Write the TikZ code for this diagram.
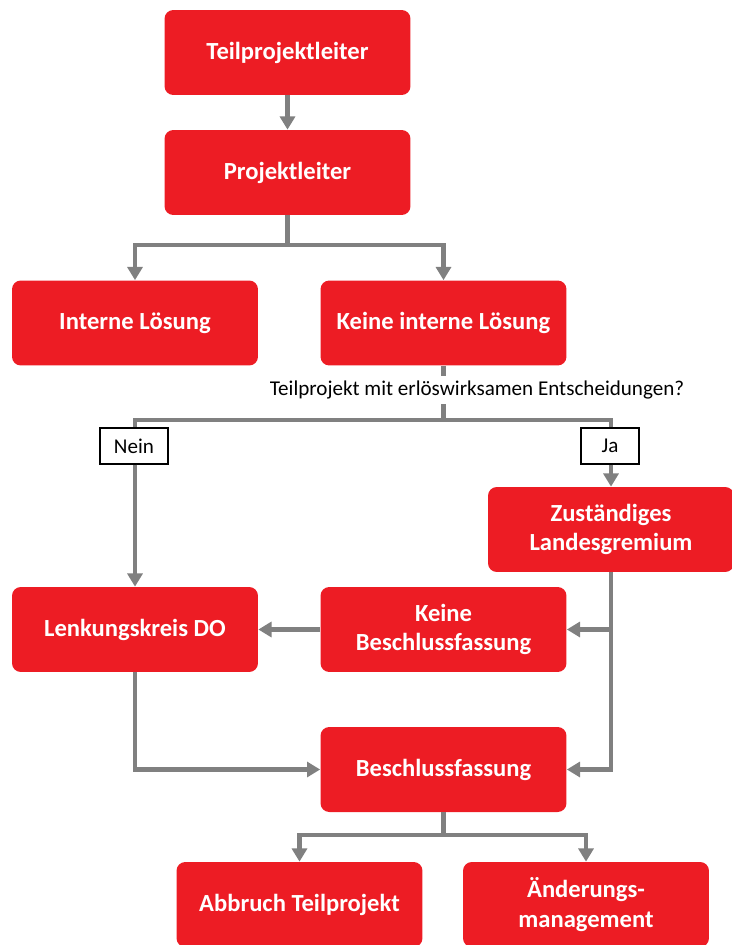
\documentclass[tikz,border=0pt]{standalone}
\usepackage{fontspec}
\setmainfont{Carlito}
\usetikzlibrary{arrows.meta}
\definecolor{boxred}{HTML}{ED1C24}
\definecolor{linegray}{HTML}{808080}

\begin{document}
\begin{tikzpicture}[
    x=0.02cm, y=-0.02cm,
    >={Triangle[width=8.5pt, length=7.5pt]},
    box/.style={rectangle, rounded corners=5pt, fill=boxred, text=white, align=center,
        font=\bfseries\fontsize{14}{17}\selectfont, minimum width=4.92cm, minimum height=1.7cm, inner sep=0pt},
    link/.style={draw=linegray, line width=2.6pt},
    flow/.style={link, ->},
    tag/.style={draw=black, fill=white, line width=0.7pt, minimum height=0.72cm, inner sep=0pt,
        font=\fontsize{12}{14}\selectfont}
]
    \useasboundingbox (0,0) rectangle (731,945);

    % Boxes
    \node[box] (tpl) at (287.5,52.5) {Teilprojektleiter};
    \node[box] (pl) at (287.5,172.5) {Projektleiter};
    \node[box] (intern) at (135,323) {Interne Lösung};
    \node[box] (keine) at (443.5,323) {Keine interne Lösung};
    \node[box] (zust) at (611,529.5) {Zuständiges\\Landesgremium};
    \node[box] (lenk) at (135,629.5) {Lenkungskreis DO};
    \node[box] (keinebes) at (443.5,629.5) {Keine\\Beschlussfassung};
    \node[box] (bes) at (443.5,769.5) {Beschlussfassung};
    \node[box] (abbruch) at (299.5,904.5) {Abbruch Teilprojekt};
    \node[box] (aend) at (586,904.5) {Änderungs-\\management};

    % Branch points
    \coordinate (gabel) at (287.5,245);
    \coordinate (split) at (443.5,420);
    \coordinate (teil) at (443.5,835);

    % Top part
    \draw[flow] (tpl) -- (pl);
    \draw[link] (pl) -- (gabel);
    \draw[flow] (gabel) -| (intern);
    \draw[flow] (gabel) -| (keine);

    % Question and answers
    \draw[link] (keine.south) -- (split);
    \node[fill=white, minimum height=0.56cm, inner sep=1pt, font=\fontsize{12}{14}\selectfont]
        (frage) at (477,390) {Teilprojekt mit erlöswirksamen Entscheidungen?};
    \draw[link] (split) -| (135,446);
    \draw[link] (split) -| (611,446);
    \node[tag, minimum width=1.36cm] (nein) at (134,446) {Nein};
    \node[tag, minimum width=1.16cm] (ja) at (610,446) {Ja};
    \draw[flow] (nein.south -| lenk.north) -- (lenk);
    \draw[flow] (ja.south -| zust.south) -- (zust);

    % Lower part
    \draw[flow] (zust.south) |- (keinebes.east);
    \draw[flow] (zust.south) |- (bes.east);
    \draw[flow] (keinebes) -- (lenk);
    \draw[flow] (lenk.south) |- (bes.west);
    \draw[link] (bes) -- (teil);
    \draw[flow] (teil) -| (abbruch);
    \draw[flow] (teil) -| (aend);

\end{tikzpicture}
\end{document}
